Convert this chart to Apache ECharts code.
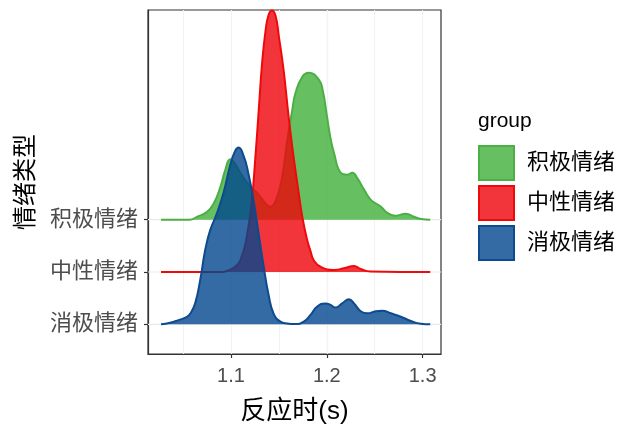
<!DOCTYPE html>
<html>
<head>
<meta charset="utf-8">
<script src="https://cdn.jsdelivr.net/npm/echarts@6/dist/echarts.min.js"></script>
<style>html,body{margin:0;padding:0;background:#fff;}#c{width:623px;height:425px;}</style>
</head>
<body>
<div id="c"></div>
<script>
// ---- data ----
const groups = ['积极情绪', '中性情绪', '消极情绪'];
const baselines = [3, 2, 1];
const xTicks = [1.1, 1.2, 1.3];

const greenX = [1.027,1.057,1.064,1.075,1.082,1.089,1.094,1.0993,1.104,1.110,1.1202,1.128,1.1377,1.141,1.147,1.1534,1.1586,1.164,1.1673,1.1743,1.181,1.1917,1.196,1.200,1.204,1.2075,1.2145,1.2215,1.2267,1.232,1.239,1.246,1.2563,1.2633,1.272,1.2825,1.291,1.2985,1.308];
const greenH = [0,0,0.05,0.15,0.31,0.63,0.95,1.155,1.08,0.89,0.63,0.50,0.28,0.25,0.38,0.82,1.5,2.1,2.42,2.73,2.81,2.68,2.45,2.0,1.55,1.28,0.90,0.86,0.90,0.79,0.57,0.38,0.25,0.13,0.077,0.115,0.057,0.013,0];

const redX = [1.027,1.088,1.094,1.1027,1.1097,1.1167,1.1219,1.1255,1.129,1.1325,1.136,1.139,1.1425,1.1465,1.150,1.155,1.160,1.165,1.170,1.1745,1.179,1.183,1.1865,1.1935,1.2075,1.218,1.2284,1.2353,1.2458,1.308];
const redH = [0,0,0.01,0.08,0.22,0.7,1.4,2.2,3.1,4.0,4.6,4.9,5.0,4.9,4.5,3.85,3.0,2.25,1.6,1.05,0.65,0.40,0.22,0.10,0.04,0.07,0.115,0.057,0.01,0];

const blueX = [1.027,1.0364,1.0452,1.054,1.0574,1.0626,1.0679,1.0731,1.0783,1.0853,1.0923,1.0993,1.1045,1.108,1.1132,1.118,1.1237,1.129,1.134,1.1394,1.1446,1.1516,1.1586,1.167,1.176,1.183,1.190,1.1987,1.204,1.2092,1.216,1.2232,1.2284,1.2354,1.2424,1.2511,1.258,1.2668,1.2773,1.2877,1.2982,1.308];
const blueH = [0,0.03,0.08,0.14,0.20,0.40,0.85,1.42,1.80,2.12,2.52,3.05,3.32,3.38,3.22,2.9,2.35,1.72,1.12,0.55,0.2,0.05,0.015,0.005,0.05,0.18,0.34,0.40,0.37,0.32,0.40,0.48,0.40,0.25,0.21,0.25,0.26,0.21,0.145,0.064,0.01,0];

// ---- styling ----
const fillsBase = ['#40B039', '#EF030A', '#01468D'];   // drawn at 0.8 opacity
const fillsKey = ['#66C061', '#F2353B', '#346BA4'];
const lines = ['#4CAF45', '#EE0A0A', '#0D4A8E'];
const xMin = 1.0134, xMax = 1.3192, yMin = 0.432, yMax = 7.01;
const FONT = '"Liberation Sans", "Noto Sans CJK SC", sans-serif';

const xs = [greenX, redX, blueX];
const hs = [greenH, redH, blueH];

const series = [];
baselines.forEach(b => {
  series.push({
    type: 'line', silent: true, z: 1, symbol: 'none',
    data: [[xMin, b], [xMax, b]],
    lineStyle: { color: '#EBEBEB', width: 1.2 }
  });
});
groups.forEach((g, i) => {
  series.push({
    name: g, type: 'line', symbol: 'none', smooth: 0.5,
    z: 3 + i,
    data: xs[i].map((x, k) => [x, baselines[i] + hs[i][k]]),
    lineStyle: { color: lines[i], width: 2 },
    itemStyle: { color: fillsKey[i], borderColor: lines[i], borderWidth: 2 },
    areaStyle: { color: fillsBase[i], opacity: 0.8, origin: baselines[i] }
  });
});

const chart = echarts.init(document.getElementById('c'), null, { renderer: 'canvas' });
chart.setOption({
  animation: false,
  backgroundColor: '#fff',
  grid: { left: 148, right: 182, top: 10, bottom: 71, outerBoundsMode: 'none', containLabel: false, show: true, borderColor: '#333', borderWidth: 1.2, backgroundColor: 'transparent' },
  title: {
    text: 'group', left: 478, top: 111, padding: 0,
    textStyle: { fontSize: 21, fontWeight: 'normal', color: '#000', fontFamily: FONT }
  },
  legend: {
    orient: 'vertical', left: 478, top: 145, padding: 0, icon: 'rect',
    itemWidth: 35, itemHeight: 34, itemGap: 4,
    textStyle: { fontSize: 22, color: '#000', fontFamily: FONT, padding: [0, 0, 0, 8] },
    data: groups.map((g, i) => ({ name: g, itemStyle: { color: fillsKey[i], borderColor: lines[i], borderWidth: 2 } }))
  },
  xAxis: [{
    type: 'value', min: xMin, max: xMax, splitNumber: 3,
    name: '反应时(s)', nameLocation: 'middle', nameGap: 45,
    nameTextStyle: { fontSize: 26, color: '#000', fontFamily: FONT },
    axisLine: { show: true, lineStyle: { color: '#333', width: 1.2 } },
    axisTick: { show: true, length: 4, customValues: xTicks, lineStyle: { color: '#333', width: 1.2 } },
    axisLabel: { customValues: xTicks, fontSize: 20, color: '#4D4D4D', margin: 12, fontFamily: FONT },
    splitLine: { show: true, showMinLine: false, showMaxLine: false, lineStyle: { color: '#EBEBEB', width: 1.3 } }
  }, {
    type: 'value', min: xMin, max: xMax, splitNumber: 6, position: 'top',
    axisLine: { show: false }, axisTick: { show: false }, axisLabel: { show: false },
    splitLine: { show: true, showMinLine: false, showMaxLine: false, lineStyle: { color: '#F2F2F2', width: 1 } }
  }],
  yAxis: {
    type: 'value', min: yMin, max: yMax,
    name: '情绪类型', nameLocation: 'middle', nameGap: 110,
    nameTextStyle: { fontSize: 24, color: '#000', fontFamily: FONT },
    axisLine: { show: true, lineStyle: { color: '#333', width: 1.2 } },
    axisTick: { show: true, length: 4, customValues: baselines, lineStyle: { color: '#333', width: 1.2 } },
    axisLabel: {
      customValues: baselines, fontSize: 22, color: '#4D4D4D', margin: 10, fontFamily: FONT,
      formatter: v => { const k = baselines.indexOf(Math.round(v)); return k >= 0 && Math.abs(v - Math.round(v)) < 1e-6 ? groups[k] : ''; }
    },
    splitLine: { show: false }
  },
  series: series
});
</script>
</body>
</html>
